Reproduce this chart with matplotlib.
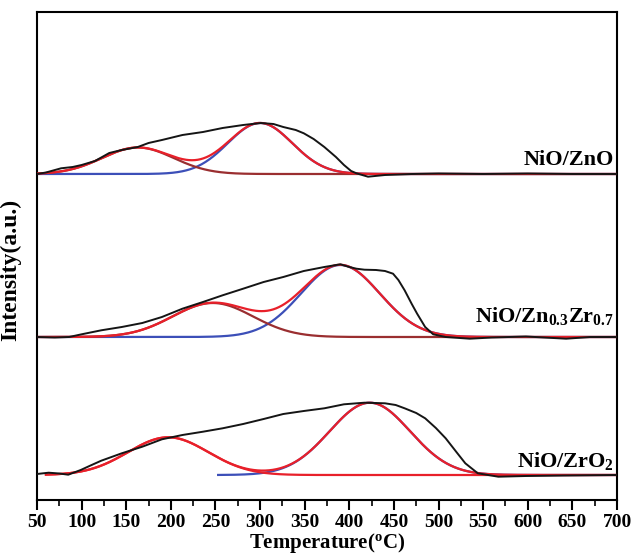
import numpy as np
import matplotlib
matplotlib.use("Agg")
import matplotlib.pyplot as plt
from matplotlib.ticker import MultipleLocator

plt.rcParams['font.family'] = ['Liberation Serif', 'DejaVu Serif']
plt.rcParams['font.weight'] = 'bold'
plt.rcParams['mathtext.fontset'] = 'custom'
plt.rcParams['mathtext.rm'] = 'Liberation Serif:bold'
plt.rcParams['mathtext.bf'] = 'Liberation Serif:bold'
plt.rcParams['mathtext.it'] = 'Liberation Serif:bold:italic'

# ---- data (temperature in degC, intensity in arbitrary units above each baseline) ----
labels = ['NiO/ZnO', 'NiO/Zn$_{\\mathrm{0.3}}$Zr$_{\\mathrm{0.7}}$', 'NiO/ZrO$_{\\mathrm{2}}$']
offsets = [326, 163, 25]

znO_T = [50, 60, 77, 90, 100, 115, 131, 145, 163, 175, 190, 213, 236, 258, 281, 301, 315, 326,
         340, 349, 360, 372, 385, 394, 402, 408, 421, 440, 470, 500, 550, 600, 650, 700]
znO_I = [0, 1.5, 5.7, 7, 9, 13, 21, 24, 27, 31, 34, 39, 42, 46, 49, 51, 50, 47,
         44, 40.7, 35, 27, 17, 9, 3, 0.7, -2.7, -1, 0, 0.5, 0, 0.5, 0, 0]

znzr_T = [50, 70, 86, 100, 122, 145, 168, 190, 213, 236, 258, 281, 304, 326, 349, 372, 390, 400,
          408, 417, 430, 440, 449, 455, 462, 470, 476, 485, 494, 508, 535, 560, 598, 643, 670, 700]
znzr_I = [0, -0.5, 0, 2.7, 6.7, 10, 14, 20, 28.3, 35, 41.7, 48.3, 55, 60, 66, 70, 72.7, 70,
          68.3, 67.3, 67, 66, 63.3, 57, 46.7, 33, 23.3, 10, 2.7, 0, -1.7, -0.5, 0.5, -1.7, 0, 0]

zr_T = [50, 63, 75, 85, 99, 110, 122, 145, 168, 190, 213, 236, 258, 281, 304, 326, 349, 372,
        394, 417, 440, 452, 462, 475, 485, 497, 508, 520, 530, 544, 567, 598, 640, 700]
zr_I = [1, 2.3, 1.5, 0.3, 5, 9.5, 14.3, 21.7, 28.3, 35.7, 40, 43.3, 46.7, 51, 56, 61, 64, 66.7,
        70.7, 72.3, 71.7, 70, 66.7, 62, 56.7, 47, 36.7, 23, 11.7, 1.7, -1.7, -1, -0.5, 0]

# fitted peak parameters: (centre, height, width)
peak_low = [(163, 26.5, 40), (247, 34, 45), (197, 37.7, 45)]
peak_high = [(300, 51, 36), (390, 72, 44), (423, 72.3, 45)]
fit_start = [50, 50, 60]
high_start = [50, 50, 253]

black_T = [znO_T, znzr_T, zr_T]
black_I = [znO_I, znzr_I, zr_I]

RED = '#e8202a'
BROWN = '#9a2e30'
BLUE = '#3c4fb8'

fig = plt.figure(figsize=(6.32, 5.6), dpi=100)
ax = fig.add_axes([37/632, 1-500/560, 580/632, 488/560])

def gauss(t, c, h, w):
    return h*np.exp(-(t-c)**2/(2*w**2))

for i in range(3):
    off = offsets[i]
    t = np.linspace(fit_start[i], 700, 600)
    tb = np.linspace(high_start[i], 700, 600)
    lo = gauss(t, *peak_low[i])
    hi_b = gauss(tb, *peak_high[i])
    low_color = BROWN if i < 2 else RED
    ax.plot(tb, off + hi_b, color=BLUE, lw=1.6, zorder=2)
    ax.plot(t, off + lo, color=low_color, lw=1.6, zorder=2)
    ax.plot(t, off + lo + gauss(t, *peak_high[i]), color=RED, lw=1.6, zorder=3)
    ax.plot(black_T[i], off + np.array(black_I[i]), color='#151515', lw=1.4, zorder=4)

label_pos = [(697, 335), (697, 178), (697, 33)]
for i in range(3):
    ax.text(label_pos[i][0], label_pos[i][1], labels[i], ha='right', va='baseline',
            fontsize=16, fontweight='bold')

ax.set_xlim(50, 700)
ax.set_ylim(0, 488)
ax.xaxis.set_major_locator(MultipleLocator(50))
ax.xaxis.set_minor_locator(MultipleLocator(25))
ax.tick_params(axis='x', which='major', direction='out', length=7, width=1.5,
               labelsize=14, pad=3)
ax.tick_params(axis='x', which='minor', direction='out', length=4, width=1.2)
ax.set_yticks([])
for lab in ax.get_xticklabels():
    lab.set_fontweight('bold')
for s in ax.spines.values():
    s.set_linewidth(1.5)

ax.set_xlabel('Temperature($^{\\mathrm{o}}$C)', fontsize=15, fontweight='bold', labelpad=0)
ax.set_ylabel('Intensity(a.u.)', fontsize=17, fontweight='bold')
ax.yaxis.set_label_coords(-0.027, 0.471)

fig.savefig('out.png', dpi=100)
